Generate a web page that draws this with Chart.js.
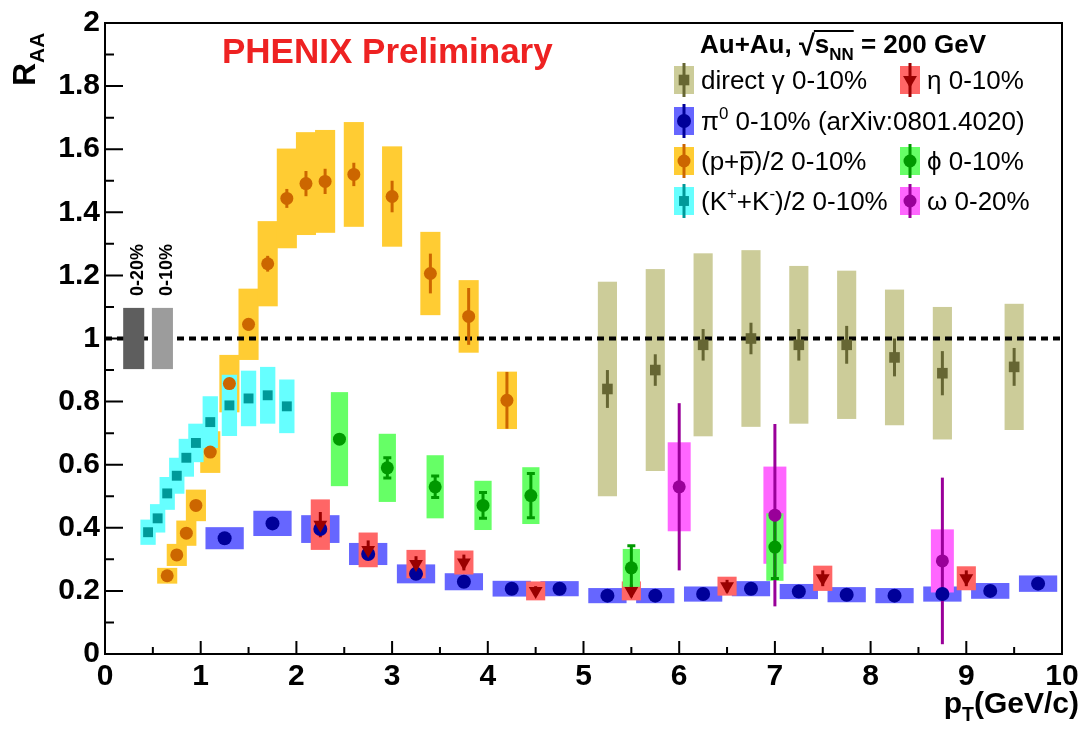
<!DOCTYPE html>
<html>
<head>
<meta charset="utf-8">
<script src="https://cdn.jsdelivr.net/npm/chart.js@4.4.1/dist/chart.umd.min.js"></script>
<style>
  html, body { margin: 0; padding: 0; background: #fff; }
  #wrap { width: 1085px; height: 733px; }
</style>
</head>
<body>
<div id="wrap"><canvas id="myChart" width="1085" height="733"></canvas></div>
<script>
'use strict';

// R_AA vs p_T
let gammaX = [5.25, 5.75, 6.25, 6.75, 7.25, 7.75, 8.25, 8.75, 9.5];
let gammaY = [0.84, 0.90, 0.98, 1.00, 0.98, 0.98, 0.94, 0.89, 0.91];
let gammaStat = [0.06, 0.05, 0.05, 0.05, 0.05, 0.06, 0.06, 0.07, 0.06];
let gammaSys = [0.34, 0.32, 0.29, 0.28, 0.25, 0.235, 0.215, 0.21, 0.20];

let pi0X = [1.25, 1.75, 2.25, 2.75, 3.25, 3.75, 4.25, 4.75, 5.25, 5.75, 6.25, 6.75, 7.25, 7.75, 8.25, 8.75, 9.25, 9.75];
let pi0Y = [0.367, 0.414, 0.396, 0.317, 0.254, 0.229, 0.207, 0.207, 0.185, 0.185, 0.19, 0.207, 0.198, 0.188, 0.185, 0.19, 0.20, 0.223];
let pi0Stat = [0.005, 0.005, 0.005, 0.005, 0.005, 0.005, 0.005, 0.005, 0.005, 0.005, 0.005, 0.005, 0.005, 0.005, 0.005, 0.005, 0.005, 0.005];
let pi0Sys = [0.035, 0.04, 0.044, 0.035, 0.03, 0.027, 0.025, 0.024, 0.024, 0.024, 0.024, 0.024, 0.024, 0.024, 0.024, 0.024, 0.025, 0.026];

let etaX = [2.25, 2.75, 3.25, 3.75, 4.5, 5.5, 6.5, 7.5, 9.0];
let etaY = [0.41, 0.33, 0.285, 0.29, 0.20, 0.20, 0.215, 0.24, 0.24];
let etaStat = [0.04, 0.03, 0.025, 0.025, 0.015, 0.02, 0.02, 0.025, 0.025];
let etaSys = [0.08, 0.055, 0.045, 0.038, 0.03, 0.03, 0.03, 0.04, 0.038];

let protonX = [0.65, 0.75, 0.85, 0.95, 1.1, 1.3, 1.5, 1.7, 1.9, 2.1, 2.3, 2.6, 3.0, 3.4, 3.8, 4.2];
let protonY = [0.248, 0.314, 0.383, 0.471, 0.64, 0.857, 1.045, 1.237, 1.444, 1.491, 1.498, 1.52, 1.45, 1.206, 1.07, 0.804];
let protonStat = [0.01, 0.01, 0.01, 0.01, 0.015, 0.015, 0.02, 0.025, 0.03, 0.04, 0.04, 0.037, 0.05, 0.063, 0.09, 0.09];
let protonSys = [0.025, 0.035, 0.04, 0.05, 0.066, 0.091, 0.113, 0.135, 0.158, 0.163, 0.163, 0.166, 0.159, 0.132, 0.115, 0.091];

let kaonX = [0.45, 0.55, 0.65, 0.75, 0.85, 0.95, 1.1, 1.3, 1.5, 1.7, 1.9];
let kaonY = [0.386, 0.43, 0.509, 0.565, 0.622, 0.669, 0.735, 0.788, 0.81, 0.82, 0.785];
let kaonStat = [0.005, 0.005, 0.005, 0.005, 0.005, 0.005, 0.005, 0.005, 0.005, 0.005, 0.005];
let kaonSys = [0.04, 0.045, 0.052, 0.057, 0.06, 0.061, 0.082, 0.097, 0.088, 0.09, 0.085];

let phiX = [2.45, 2.95, 3.45, 3.95, 4.45, 5.5, 7.0];
let phiY = [0.681, 0.59, 0.53, 0.471, 0.502, 0.273, 0.339];
let phiStat = [0.01, 0.032, 0.034, 0.041, 0.07, 0.07, 0.1];
let phiSys = [0.149, 0.108, 0.10, 0.078, 0.09, 0.06, 0.107];

let omegaX = [6.0, 7.0, 8.75];
let omegaY = [0.53, 0.44, 0.295];
let omegaStat = [0.265, 0.289, 0.264];
let omegaSys = [0.141, 0.154, 0.10];

// global normalization uncertainty boxes at R_AA = 1
let normX = [0.3, 0.6];
let normErr = [0.097, 0.097];
let normLabels = ['0-20%', '0-10%'];

let yTickLabels = ['0', '0.2', '0.4', '0.6', '0.8', '1', '1.2', '1.4', '1.6', '1.8', '2'];

const FONT = '"Liberation Sans", Arial, "DejaVu Sans", sans-serif';

function Series(x, y, stat, sys, box, mark, style, radius, halfW, cap) {
  this.x = x;
  this.y = y;
  this.stat = stat;
  this.sys = sys;
  this.box = box;
  this.mark = mark;
  this.style = style;
  this.radius = radius;
  this.halfW = halfW;
  this.cap = cap;
}

let gamma = new Series(gammaX, gammaY, gammaStat, gammaSys, '#cccc99', '#666633', 'rect', 7.5, 0.1, 0);
let pi0 = new Series(pi0X, pi0Y, pi0Stat, pi0Sys, '#6666ff', '#000099', 'circle', 7, 0.2, 0);
let eta = new Series(etaX, etaY, etaStat, etaSys, '#ff6666', '#990000', 'triangle', 8, 0.1, 0);
let proton = new Series(protonX, protonY, protonStat, protonSys, '#ffcc33', '#cc6600', 'circle', 6.5, 0.105, 0);
let kaon = new Series(kaonX, kaonY, kaonStat, kaonSys, '#66ffff', '#009999', 'rect', 7, 0.08, 0);
let phi = new Series(phiX, phiY, phiStat, phiSys, '#66ff66', '#009900', 'circle', 6.5, 0.09, 4);
let omega = new Series(omegaX, omegaY, omegaStat, omegaSys, '#ff66ff', '#990099', 'circle', 6.5, 0.12, 0);

// boxes are painted in this order
let boxOrder = [gamma, pi0, eta, proton, kaon, omega, phi];
// markers: first one ends up on top
let markOrder = [eta, omega, phi, pi0, kaon, proton, gamma];

function drawMarker(ctx, s, x, y) {
  ctx.fillStyle = s.mark;
  ctx.beginPath();
  if (s.style === 'circle') {
    ctx.arc(x, y, s.radius, 0, Math.PI * 2);
  } else if (s.style === 'rect') {
    let h = s.radius * Math.SQRT1_2;
    ctx.rect(x - h, y - h, 2 * h, 2 * h);
  } else {
    let r = s.radius;
    ctx.moveTo(x - r * 0.866, y - r * 0.5);
    ctx.lineTo(x + r * 0.866, y - r * 0.5);
    ctx.lineTo(x, y + r);
    ctx.closePath();
  }
  ctx.fill();
}

// draws a row of text pieces (sub/superscripts, overbars), returns width
function drawParts(ctx, x, y, parts, size, weight, measureOnly) {
  let x0 = x;
  parts.forEach(p => {
    let s = (p.sub || p.sup) ? size * 0.65 : size;
    ctx.font = weight + ' ' + s + 'px ' + FONT;
    let dy = p.sub ? size * 0.28 : (p.sup ? -size * 0.42 : 0);
    let w = ctx.measureText(p.t).width;
    if (!measureOnly) {
      ctx.fillText(p.t, x, y + dy);
      if (p.bar) {
        ctx.fillRect(x + 1, y - size * 0.72, w - 1, 2);
      }
    }
    x += w;
  });
  return x - x0;
}

const decor = {
  id: 'decor',
  beforeDatasetsDraw(chart) {
    const { ctx, chartArea: a, scales: { x, y } } = chart;
    ctx.save();
    // systematic boxes
    boxOrder.forEach(s => {
      ctx.fillStyle = s.box;
      s.x.forEach((xv, i) => {
        let l = x.getPixelForValue(xv - s.halfW);
        let r = x.getPixelForValue(xv + s.halfW);
        let t = y.getPixelForValue(s.y[i] + s.sys[i]);
        let b = y.getPixelForValue(s.y[i] - s.sys[i]);
        ctx.fillRect(l, t, r - l, b - t);
      });
    });
    // unity line
    ctx.strokeStyle = '#000';
    ctx.lineWidth = 4;
    ctx.setLineDash([7, 5]);
    ctx.beginPath();
    ctx.moveTo(a.left, y.getPixelForValue(1));
    ctx.lineTo(a.right, y.getPixelForValue(1));
    ctx.stroke();
    ctx.setLineDash([]);
    // normalization boxes
    let normColors = ['#5e5e5e', '#9c9c9c'];
    normX.forEach((xv, i) => {
      ctx.fillStyle = normColors[i];
      let l = x.getPixelForValue(xv - 0.11);
      let r = x.getPixelForValue(xv + 0.11);
      let t = y.getPixelForValue(1 + normErr[i]);
      let b = y.getPixelForValue(1 - normErr[i]);
      ctx.fillRect(l, t, r - l, b - t);
    });
    // statistical error bars
    ctx.lineWidth = 3;
    boxOrder.forEach(s => {
      ctx.strokeStyle = s.mark;
      s.x.forEach((xv, i) => {
        let px = x.getPixelForValue(xv);
        let t = y.getPixelForValue(s.y[i] + s.stat[i]);
        let b = y.getPixelForValue(s.y[i] - s.stat[i]);
        ctx.beginPath();
        ctx.moveTo(px, t);
        ctx.lineTo(px, b);
        if (s.cap) {
          ctx.moveTo(px - s.cap, t);
          ctx.lineTo(px + s.cap, t);
          ctx.moveTo(px - s.cap, b);
          ctx.lineTo(px + s.cap, b);
        }
        ctx.stroke();
      });
    });
    ctx.restore();
  },
  afterDraw(chart) {
    const { ctx, chartArea: a, scales: { x, y } } = chart;
    ctx.save();
    ctx.strokeStyle = '#000';
    ctx.fillStyle = '#000';
    ctx.lineWidth = 2;
    // inward ticks
    ctx.beginPath();
    for (let v = 0; v <= 10.001; v += 0.5) {
      let px = x.getPixelForValue(v);
      let len = Math.abs(v - Math.round(v)) < 0.01 ? 13 : 7;
      ctx.moveTo(px, a.bottom);
      ctx.lineTo(px, a.bottom - len);
    }
    for (let v = 0; v <= 2.001; v += 0.1) {
      let py = y.getPixelForValue(v);
      let len = Math.round(v * 10) % 2 === 0 ? 18 : 9;
      ctx.moveTo(a.left, py);
      ctx.lineTo(a.left + len, py);
    }
    // top and right frame
    ctx.moveTo(a.left, a.top);
    ctx.lineTo(a.right, a.top);
    ctx.lineTo(a.right, a.bottom);
    ctx.stroke();

    ctx.textAlign = 'left';
    ctx.textBaseline = 'alphabetic';

    // title
    ctx.fillStyle = '#ee2222';
    ctx.font = 'bold 35px ' + FONT;
    ctx.fillText('PHENIX Preliminary', 222, 63);

    // y axis title
    ctx.fillStyle = '#000';
    ctx.save();
    ctx.translate(35, 86);
    ctx.rotate(-Math.PI / 2);
    drawParts(ctx, 0, 0, [{ t: 'R' }, { t: 'AA', sub: true }], 32, 'bold');
    ctx.restore();

    // x axis title
    let xt = [{ t: 'p' }, { t: 'T', sub: true }, { t: '(GeV/c)' }];
    let xw = drawParts(ctx, 0, 0, xt, 30, 'bold', true);
    drawParts(ctx, 1079 - xw, 713, xt, 30, 'bold');

    // normalization labels
    ctx.font = 'bold 18px ' + FONT;
    [143, 172].forEach((bx, i) => {
      ctx.save();
      ctx.translate(bx, 296);
      ctx.rotate(-Math.PI / 2);
      ctx.fillText(normLabels[i], 0, 0);
      ctx.restore();
    });

    // legend header
    let hx = 700, hy = 53;
    hx += drawParts(ctx, hx, hy, [{ t: 'Au+Au, ' }], 26, 'bold');
    ctx.font = 'bold 29px ' + FONT;
    ctx.fillText('\u221A', hx, hy + 2);
    let sq = ctx.measureText('\u221A').width;
    hx += sq;
    let sw = drawParts(ctx, hx, hy, [{ t: 's' }, { t: 'NN', sub: true }], 26, 'bold');
    ctx.fillRect(hx - 1, hy - 23, sw + 1, 2);
    hx += sw;
    drawParts(ctx, hx, hy, [{ t: ' = 200 GeV' }], 26, 'bold');

    // legend entries
    let rows = [
      [gamma, [{ t: 'direct \u03B3 0-10%' }], 684, 89],
      [eta, [{ t: '\u03B7 0-10%' }], 910, 89],
      [pi0, [{ t: '\u03C0' }, { t: '0', sup: true }, { t: ' 0-10% (arXiv:0801.4020)' }], 684, 130],
      [proton, [{ t: '(p+' }, { t: 'p', bar: true }, { t: ')/2 0-10%' }], 684, 170],
      [phi, [{ t: '\u03D5 0-10%' }], 910, 170],
      [kaon, [{ t: '(K' }, { t: '+', sup: true }, { t: '+K' }, { t: '-', sup: true }, { t: ')/2 0-10%' }], 684, 210],
      [omega, [{ t: '\u03C9 0-20%' }], 910, 210]
    ];
    rows.forEach(([s, parts, cx, base]) => {
      let cy = base - 9;
      ctx.fillStyle = s.box;
      ctx.fillRect(cx - 10, cy - 14, 20, 28);
      ctx.strokeStyle = s.mark;
      ctx.lineWidth = 3;
      ctx.beginPath();
      ctx.moveTo(cx, cy - 17);
      ctx.lineTo(cx, cy + 17);
      ctx.stroke();
      drawMarker(ctx, s, cx, cy);
      ctx.fillStyle = '#000';
      drawParts(ctx, cx + 17, base, parts, 26, 'normal');
    });
    ctx.restore();
  }
};

let datasets = markOrder.map((s, i) => ({
  data: s.x.map((xv, j) => ({ x: xv, y: s.y[j] })),
  order: i,
  pointStyle: s.style,
  pointRotation: s.style === 'triangle' ? 180 : 0,
  pointRadius: s.radius,
  pointHoverRadius: s.radius,
  backgroundColor: s.mark,
  borderWidth: 0,
  showLine: false
}));

Chart.defaults.font.family = FONT;
Chart.defaults.color = '#000';

const ctx = document.getElementById('myChart');

let config = {
  type: 'scatter',
  data: { datasets: datasets },
  options: {
    responsive: false,
    animation: false,
    devicePixelRatio: 1,
    layout: { padding: { top: 17, right: 23, left: 0, bottom: 0 } },
    plugins: {
      legend: { display: false },
      tooltip: { enabled: false }
    },
    scales: {
      x: {
        type: 'linear',
        min: 0,
        max: 10,
        grid: { display: false, drawTicks: false },
        border: { display: true, color: '#000', width: 2 },
        ticks: {
          stepSize: 1,
          autoSkip: false,
          maxRotation: 0,
          padding: 5,
          color: '#000',
          font: { size: 30, weight: 'bold' }
        },
        afterFit: (s) => { s.height = 79; }
      },
      y: {
        type: 'linear',
        min: 0,
        max: 2,
        grid: { display: false, drawTicks: false },
        border: { display: true, color: '#000', width: 2 },
        ticks: {
          stepSize: 0.2,
          autoSkip: false,
          padding: 5,
          color: '#000',
          font: { size: 30, weight: 'bold' },
          callback: (v) => yTickLabels[Math.round(v * 5)]
        },
        afterFit: (s) => { s.width = 105; }
      }
    }
  },
  plugins: [decor]
};

new Chart(ctx, config);
</script>
</body>
</html>
